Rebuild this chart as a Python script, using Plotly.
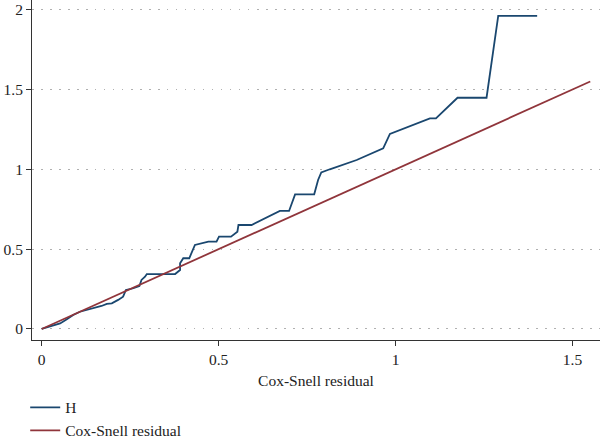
import plotly.graph_objects as go

# Nelson-Aalen cumulative hazard (H) of Cox-Snell residuals
h_x = [0.0, 0.023, 0.052, 0.07, 0.089, 0.108, 0.132, 0.155, 0.169, 0.184, 0.198,
       0.216, 0.23, 0.238, 0.259, 0.276, 0.282, 0.292, 0.297, 0.377, 0.391, 0.391,
       0.400, 0.417, 0.433, 0.471, 0.494, 0.501, 0.535, 0.553, 0.556, 0.593, 0.673,
       0.699, 0.716, 0.770, 0.781, 0.79, 0.814, 0.890, 0.965, 0.984, 1.097, 1.114,
       1.175, 1.257, 1.290, 1.400]
h_y = [0.0, 0.015, 0.035, 0.06, 0.088, 0.108, 0.123, 0.133, 0.144, 0.157, 0.161,
       0.182, 0.202, 0.244, 0.255, 0.269, 0.307, 0.327, 0.344, 0.344, 0.369, 0.411,
       0.443, 0.443, 0.526, 0.547, 0.547, 0.578, 0.578, 0.609, 0.651, 0.651, 0.739,
       0.739, 0.843, 0.843, 0.933, 0.98, 1.0, 1.058, 1.131, 1.221, 1.319, 1.319,
       1.448, 1.448, 1.960, 1.960]

# Reference line (Cox-Snell residual vs itself)
cs_x = [0.0, 1.55]
cs_y = [0.0, 1.55]

x_ticks = [0, 0.5, 1, 1.5]
x_labels = ["0", "0.5", "1", "1.5"]
y_ticks = [0, 0.5, 1, 1.5, 2]
y_labels = ["0", "0.5", "1", "1.5", "2"]

font_family = "Liberation Serif, DejaVu Serif, serif"
fs = 15.5

fig = go.Figure()
fig.add_trace(go.Scatter(x=h_x, y=h_y, mode="lines", name="H",
                         legendgroup="a",
                         line=dict(color="#1a476f", width=1.8)))
fig.add_trace(go.Scatter(x=cs_x, y=cs_y, mode="lines", name="Cox-Snell residual",
                         legendgroup="b",
                         line=dict(color="#90353b", width=1.8)))

fig.update_layout(
    width=600, height=443,
    margin=dict(l=32, r=0, t=0, b=103, autoexpand=False),
    paper_bgcolor="white", plot_bgcolor="white",
    font=dict(family=font_family, size=fs, color="#222222"),
    showlegend=True,
    legend=dict(x=0.042, xref="container", xanchor="left",
                y=0.118, yref="container", yanchor="top",
                font=dict(size=fs, family=font_family, color="#222222"),
                tracegroupgap=0, bgcolor="rgba(0,0,0,0)"),
    xaxis=dict(range=[-0.0274, 1.5776], tickvals=x_ticks, ticktext=x_labels,
               automargin=False,
               showgrid=False, zeroline=False, showline=True, linecolor="#333333",
               linewidth=1, ticks="outside", ticklen=5, tickcolor="#333333",
               title=dict(text="Cox-Snell residual", standoff=8,
                          font=dict(size=fs, family=font_family))),
    yaxis=dict(range=[-0.069, 2.06], tickvals=y_ticks, ticktext=y_labels,
               automargin=False,
               showgrid=True, gridcolor="#b0b0b0", griddash="1.5px,7.5px", gridwidth=1,
               zeroline=False, showline=True, linecolor="#333333", linewidth=1,
               ticks="outside", ticklen=5, tickcolor="#333333"),
)

fig.write_html("out.html")
